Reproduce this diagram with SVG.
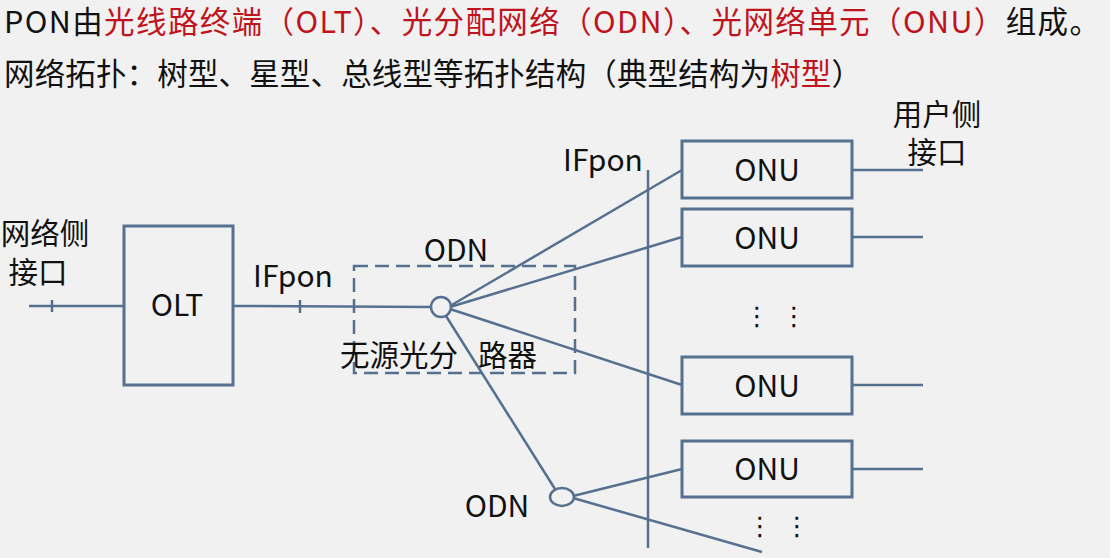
<svg xmlns="http://www.w3.org/2000/svg" width="1110" height="558" viewBox="0 0 1110 558">
<style>
.t{font-family:"Noto Sans CJK SC","Noto Sans",sans-serif;fill:#111}
.h{font-size:30.5px}
.r{fill:#c0141c}
.lb{font-size:30px}
.cn{font-size:29.5px}
.ln{stroke:#56718f;stroke-width:2.5;fill:none}
.bx{stroke:#56718f;stroke-width:3;fill:none}
.dots{font-family:"DejaVu Sans",sans-serif;font-size:26px;fill:#111}
</style>
<rect width="1110" height="558" fill="#f1f1f1"/>
<g id="title">
<text class="t h" x="4" y="33" textLength="1096" lengthAdjust="spacing">PON由<tspan class="r">光线路终端（OLT）、光分配网络（ODN）、光网络单元（ONU）</tspan>组成。</text>
<text class="t h" x="4" y="85" textLength="858" lengthAdjust="spacing">网络拓扑：树型、星型、总线型等拓扑结构（典型结构为<tspan class="r">树型</tspan>）</text>
</g>
<g id="connectors">
<line class="ln" x1="29" y1="306" x2="124" y2="306"/>
<line class="ln" x1="52" y1="300" x2="52" y2="312"/>
<line class="ln" x1="233" y1="306" x2="431" y2="307"/>
<line class="ln" x1="300" y1="300" x2="300" y2="313"/>
<line class="ln" x1="450" y1="306" x2="682" y2="170"/>
<line class="ln" x1="450" y1="307" x2="682" y2="237"/>
<line class="ln" x1="450" y1="309" x2="682" y2="385"/>
<line class="ln" x1="446" y1="316" x2="555" y2="489"/>
<line class="ln" x1="573" y1="496" x2="682" y2="469"/>
<line class="ln" x1="573" y1="498" x2="762" y2="552"/>
<line class="ln" x1="648" y1="170" x2="648" y2="548"/>
<line class="ln" x1="852" y1="170" x2="923" y2="170"/>
<line class="ln" x1="852" y1="237" x2="923" y2="237"/>
<line class="ln" x1="852" y1="385" x2="923" y2="385"/>
<line class="ln" x1="852" y1="469" x2="923" y2="469"/>
</g>
<g id="odn">
<rect x="354" y="266" width="221" height="107" class="ln" stroke-dasharray="14 7"/>
<text class="t lb" x="456" y="261" text-anchor="middle">ODN</text>
<text class="t cn" x="340" y="366">无源光分</text>
<text class="t cn" x="478" y="366">路器</text>
</g>
<g id="splitter1"><circle cx="441" cy="307" r="10" class="ln" fill="#f1f1f1"/></g>
<g id="splitter2"><ellipse cx="562" cy="497" rx="12" ry="9" class="ln" fill="#f1f1f1"/>
<text class="t lb" x="497" y="517" text-anchor="middle">ODN</text></g>
<g id="olt">
<rect x="124" y="226" width="109" height="159" class="bx"/>
<text class="t lb" x="177" y="316" text-anchor="middle">OLT</text>
</g>
<g id="netside">
<text class="t cn" x="45" y="244" text-anchor="middle">网络侧</text>
<text class="t cn" x="38" y="283" text-anchor="middle">接口</text>
</g>
<g id="ifpon1"><text class="t lb" x="293" y="287" text-anchor="middle">IFpon</text></g>
<g id="ifpon2"><text class="t lb" x="603" y="171" text-anchor="middle">IFpon</text></g>
<g id="onu1"><rect x="682" y="141" width="170" height="57" class="bx"/><text class="t lb" x="767" y="181" text-anchor="middle">ONU</text></g>
<g id="onu2"><rect x="682" y="209" width="170" height="57" class="bx"/><text class="t lb" x="767" y="249" text-anchor="middle">ONU</text></g>
<g id="onu3"><rect x="682" y="357" width="170" height="57" class="bx"/><text class="t lb" x="767" y="397" text-anchor="middle">ONU</text></g>
<g id="onu4"><rect x="682" y="441" width="170" height="56" class="bx"/><text class="t lb" x="767" y="480" text-anchor="middle">ONU</text></g>
<g id="userside">
<text class="t cn" x="937" y="125" text-anchor="middle">用户侧</text>
<text class="t cn" x="937" y="163" text-anchor="middle">接口</text>
</g>
<g id="ellipses">
<text class="dots" x="757" y="325" text-anchor="middle">⋮</text>
<text class="dots" x="794" y="325" text-anchor="middle">⋮</text>
<text class="dots" x="760" y="535" text-anchor="middle">⋮</text>
<text class="dots" x="797" y="535" text-anchor="middle">⋮</text>
</g>
</svg>
